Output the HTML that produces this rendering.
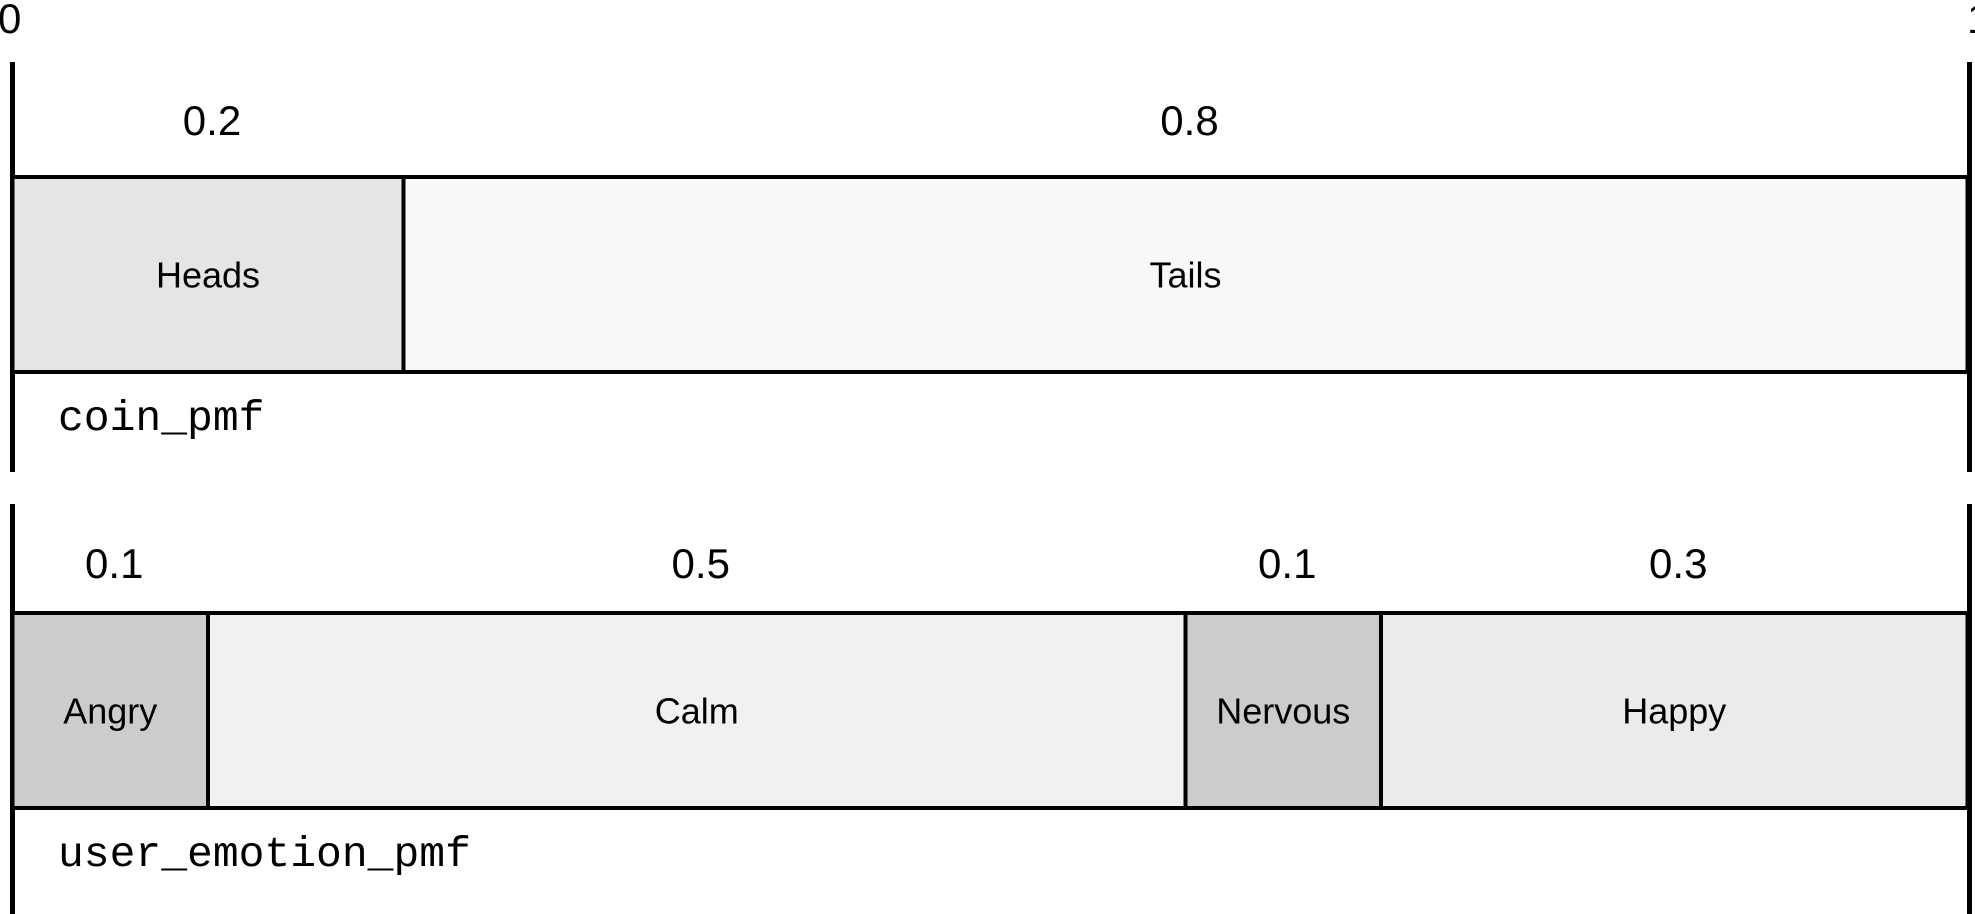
<!DOCTYPE html>
<html><head><meta charset="utf-8"><style>
html,body{margin:0;padding:0;background:#fff;width:1975px;height:914px;overflow:hidden}
svg{display:block}
</style></head><body>
<svg id="chart" width="1975" height="914" viewBox="0 0 1975 914" xmlns="http://www.w3.org/2000/svg">
<text x="-2" y="33" font-family="Liberation Sans, sans-serif" font-size="42">0</text>
<text x="1967" y="33" font-family="Liberation Sans, sans-serif" font-size="42">1</text>
</svg>
<script>
const coinCategories = ["Heads", "Tails"];
const coinValues = [0.2, 0.8];
const coinValueLabels = ["0.2", "0.8"];
const emotionCategories = ["Angry", "Calm", "Nervous", "Happy"];
const emotionValues = [0.1, 0.5, 0.1, 0.3];
const emotionValueLabels = ["0.1", "0.5", "0.1", "0.3"];

const svg = document.getElementById('chart');
const NS = 'http://www.w3.org/2000/svg';
const X0 = 12.5, W = 1955;
function xScale(v){ return X0 + v * W; }
function mk(tag, attrs){ const e = document.createElementNS(NS, tag); for (const k in attrs) e.setAttribute(k, attrs[k]); svg.appendChild(e); return e; }

function drawPmf(name, cats, vals, labels, fills, cfg){
  let l = mk('line', {x1:X0, x2:X0, y1:cfg.axTop, y2:cfg.axBot, stroke:'#000', 'stroke-width':5});
  
  
  let r = mk('line', {x1:xScale(1)+2, x2:xScale(1)+2, y1:cfg.axTop, y2:cfg.axBot, stroke:'#000', 'stroke-width':5});
  
  
  let cum = 0;
  cats.forEach((c, i) => {
    const x1 = xScale(cum), x2 = xScale(cum + vals[i]);
    const rect = mk('rect', {x:x1, y:cfg.top, width:x2 - x1, height:cfg.bot - cfg.top, fill:fills[i], stroke:'#000', 'stroke-width':4});
    
    
    const cx = (x1 + x2) / 2;
    const t = mk('text', {x:cx, y:(cfg.top + cfg.bot) / 2 + 13, 'text-anchor':'middle', 'font-family':'Liberation Sans, sans-serif', 'font-size':36, fill:'#000'});
    t.textContent = c;
    
    
    const v = mk('text', {x:cx + 4, y:cfg.valY, 'text-anchor':'middle', 'font-family':'Liberation Sans, sans-serif', 'font-size':42, fill:'#000'});
    v.textContent = labels[i];
    
    
    cum += vals[i];
  });
  const n = mk('text', {x:58, y:cfg.nameY, 'font-family':'Liberation Mono, monospace', 'font-size':43, fill:'#000'});
  n.textContent = name;
  
  
}
drawPmf('coin_pmf', coinCategories, coinValues, coinValueLabels, ['#e5e5e5', '#f8f8f8'],
  {axTop:62, axBot:472, top:177, bot:372, valY:135, nameY:430});
drawPmf('user_emotion_pmf', emotionCategories, emotionValues, emotionValueLabels, ['#cccccc', '#f1f1f1', '#cccccc', '#ebebeb'],
  {axTop:504, axBot:914, top:613, bot:808, valY:578, nameY:866});
</script>
</body></html>
